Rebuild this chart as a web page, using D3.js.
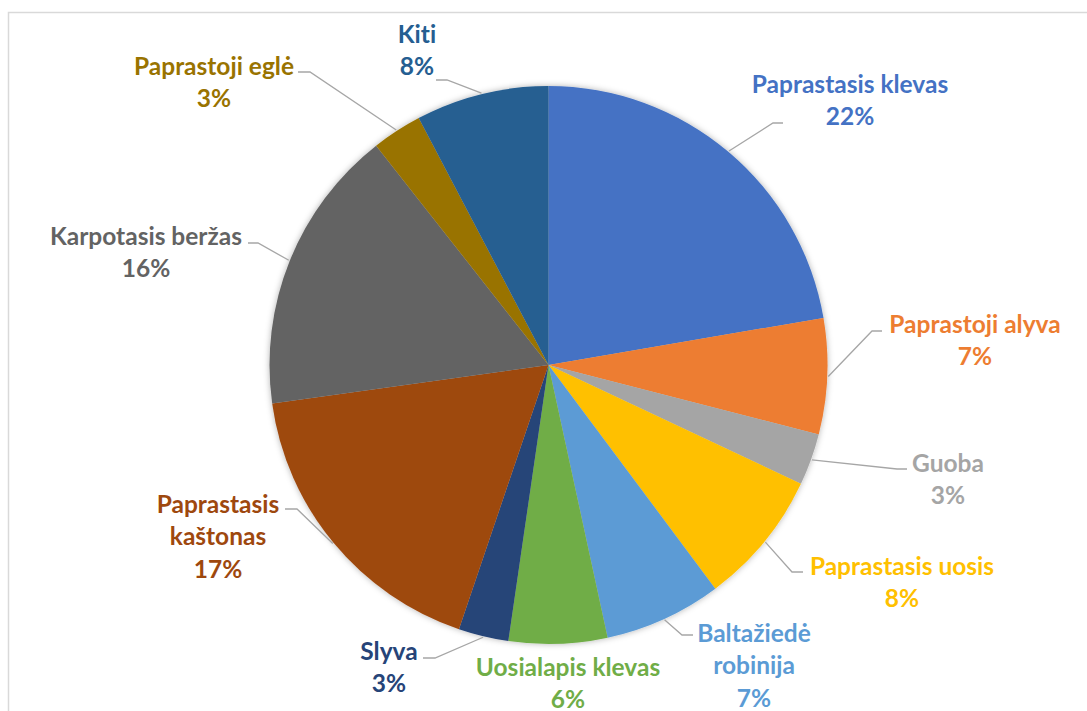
<!DOCTYPE html>
<html>
<head>
<meta charset="utf-8">
<script src="https://cdn.jsdelivr.net/npm/d3@7"></script>
<style>
  html, body { margin: 0; padding: 0; background: #fff; }
  svg { display: block; }
  text { font-variant-ligatures: none; font-feature-settings: "liga" 0; }
</style>
</head>
<body>
<svg id="chart" width="1087" height="711"></svg>
<script>
// ---- data ----
const categories = ["Paprastasis klevas", "Paprastoji alyva", "Guoba", "Paprastasis uosis",
  "Baltažiedė robinija", "Uosialapis klevas", "Slyva", "Paprastasis kaštonas",
  "Karpotasis beržas", "Paprastoji eglė", "Kiti"];
const values = [22.3, 6.7, 3.0, 7.8, 6.8, 5.7, 2.9, 17.6, 16.6, 2.9, 7.7];
const percentLabels = ["22%", "7%", "3%", "8%", "7%", "6%", "3%", "17%", "16%", "3%", "8%"];
const colors = ["#4472C4", "#ED7D31", "#A5A5A5", "#FFC000", "#5B9BD5", "#70AD47",
  "#264478", "#9E480E", "#636363", "#997300", "#255E91"];
// label text lines (how each label wraps)
const labelLines = [["Paprastasis klevas"], ["Paprastoji alyva"], ["Guoba"], ["Paprastasis uosis"],
  ["Baltažiedė", "robinija"], ["Uosialapis klevas"], ["Slyva"], ["Paprastasis", "kaštonas"],
  ["Karpotasis beržas"], ["Paprastoji eglė"], ["Kiti"]];

// ---- layout ----
const W = 1087, H = 711;
const cx = 548.5, cy = 365, R = 279;
const lineH = 32.5;
// label centre x and first-line centre y; leader elbow point & side
const labelPos = [
  {x: 850, y: 83,  ex: 773, ey: 123, hx: 783},
  {x: 975, y: 323, ex: 872, ey: 331, hx: 882},
  {x: 948, y: 462, ex: 897, ey: 469, hx: 907},
  {x: 902, y: 565, ex: 792, ey: 572, hx: 803},
  {x: 754, y: 632, ex: 682, ey: 635, hx: 693},
  {x: 568, y: 666, ex: null},
  {x: 389, y: 650, ex: 435, ey: 658, hx: 423},
  {x: 218, y: 503, ex: 297, ey: 509, hx: 285},
  {x: 146, y: 235, ex: 258, ey: 243, hx: 248},
  {x: 214, y: 65,  ex: 310, ey: 72,  hx: 298},
  {x: 417, y: 33,  ex: 447, ey: 80,  hx: 436}
];

const svg = d3.select("#chart");

// frame
svg.append("path")
  .attr("d", `M8.5,${H} L8.5,12.5 L${W},12.5`)
  .attr("fill", "none").attr("stroke", "#d9d9d9").attr("stroke-width", 1.5);

const defs = svg.append("defs");
const f = defs.append("filter").attr("id", "shadow")
  .attr("x", "-10%").attr("y", "-10%").attr("width", "120%").attr("height", "120%");
f.append("feDropShadow").attr("dx", 0).attr("dy", 0).attr("stdDeviation", 3)
  .attr("flood-color", "#000").attr("flood-opacity", 0.3);

const pie = d3.pie().sort(null).value(d => d)(values);
const arc = d3.arc().innerRadius(0).outerRadius(R);

const g = svg.append("g").attr("transform", `translate(${cx},${cy})`);
g.append("g").attr("filter", "url(#shadow)")
  .selectAll("path").data(pie).join("path")
  .attr("d", arc)
  .attr("fill", (d, i) => colors[i]);

// leader lines
const leaders = svg.append("g");
pie.forEach((d, i) => {
  const p = labelPos[i];
  if (p.ex === null) return;
  const a = (d.startAngle + d.endAngle) / 2;
  const px = cx + (R + 1) * Math.sin(a), py = cy - (R + 1) * Math.cos(a);
  leaders.append("path")
    .attr("d", `M${p.hx},${p.ey} L${p.ex},${p.ey} L${px},${py}`)
    .attr("fill", "none").attr("stroke", "#a6a6a6").attr("stroke-width", 1.3);
});

// labels
const labels = svg.append("g")
  .attr("font-family", "Lato, 'Open Sans', sans-serif")
  .attr("font-weight", 700).attr("font-size", 24.5)
  .attr("text-anchor", "middle");
categories.forEach((c, i) => {
  const p = labelPos[i];
  const lines = labelLines[i].concat([percentLabels[i]]);
  const t = labels.append("text").attr("fill", colors[i]);
  lines.forEach((ln, k) => {
    t.append("tspan").attr("x", p.x).attr("y", p.y + k * lineH)
      .attr("dominant-baseline", "central").text(ln);
  });
});
</script>
</body>
</html>
